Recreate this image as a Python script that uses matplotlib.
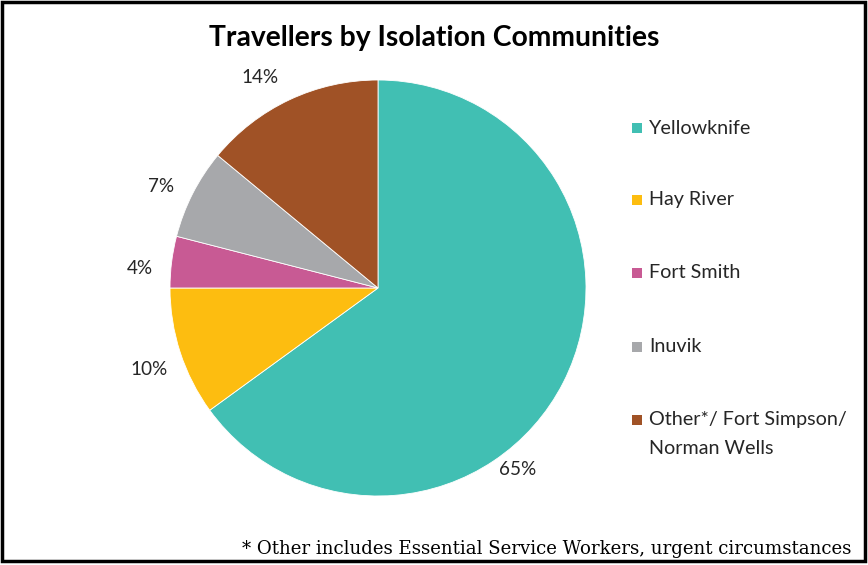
import matplotlib
matplotlib.use("Agg")
import matplotlib.pyplot as plt
from matplotlib.patches import Rectangle
import numpy as np

categories = ["Yellowknife", "Hay River", "Fort Smith", "Inuvik",
              "Other*/ Fort Simpson/\nNorman Wells"]
values = [65, 10, 4, 7, 14]
pct_labels = ["65%", "10%", "4%", "7%", "14%"]
colors = ["#41BFB3", "#FDBD10", "#C85A94", "#A7A8AB", "#A05226"]

title = "Travellers by Isolation Communities"
footnote = "* Other includes Essential Service Workers, urgent circumstances"

# label placement (Excel "best fit"), polar: angle in degrees, radius factor
label_angles = [-52.4, 199.5, 175.4, 155.0, 119.3]
label_radii = [1.104, 1.168, 1.148, 1.151, 1.158]

plt.rcParams['font.family'] = ['Lato', 'DejaVu Sans']

fig = plt.figure(figsize=(8.68, 5.65), dpi=100)
ax = fig.add_axes([0.0, 0.0, 1.0, 1.0])
ax.set_xlim(0, 868)
ax.set_ylim(565, 0)
ax.axis('off')

pax = fig.add_axes([170/868, 1-497/565, 416/868, 418/565])
wedges, texts = pax.pie(values, colors=colors, startangle=90, counterclock=False,
                        labels=pct_labels, labeldistance=1.16,
                        wedgeprops=dict(linewidth=0.6, edgecolor='white'),
                        textprops=dict(fontsize=13.6, color='#262626'))
pax.set_xlim(-1, 1)
pax.set_ylim(-1, 1)
pax.set_aspect('equal')
for t, a, r in zip(texts, label_angles, label_radii):
    t.set_ha('center')
    t.set_va('center')
    t.set_clip_on(False)
    t.set_position((r*np.cos(np.deg2rad(a)), r*np.sin(np.deg2rad(a))))

fig.text(434/868, 1-38/565, title, ha='center', va='center',
         fontsize=20.3, fontweight='bold', color='black')

# legend
leg_y = [128, 200, 273, 347, 420]
for i, (c, name) in enumerate(zip(colors, categories)):
    y = leg_y[i]
    ax.add_patch(Rectangle((632, y-5), 10, 10, facecolor=c, edgecolor='none'))
    if '\n' in name:
        first, second = name.split('\n')
        ax.text(649, y, first, ha='left', va='center', fontsize=14.2,
                color='#262626')
        ax.text(649, y + 28, second, ha='left', va='center', fontsize=14.2,
                color='#262626')
    else:
        ax.text(649, y, name, ha='left', va='center', fontsize=14.2,
                color='#262626')

fig.text(851/868, 1-549/565, footnote, ha='right', va='center',
         fontsize=13.1, family=['DejaVu Serif'], color='black')

ax.add_patch(Rectangle((2, 2), 863, 559, facecolor='none', edgecolor='black',
                       linewidth=2.5))

fig.savefig("out.png", dpi=100)
